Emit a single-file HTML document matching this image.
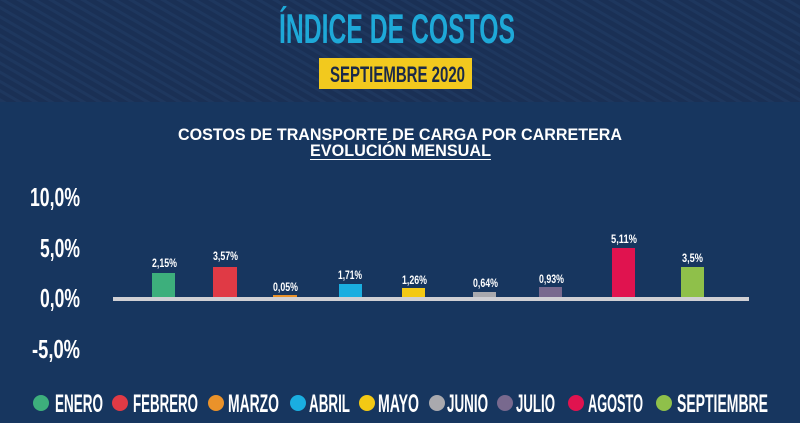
<!DOCTYPE html>
<html><head><meta charset="utf-8"><style>
html,body{margin:0;padding:0;width:800px;height:423px;overflow:hidden;background:#17355e}
svg{display:block}
.n{font-family:"Liberation Sans Narrow","Liberation Sans",sans-serif;font-weight:bold}
.s{font-family:"Liberation Sans",sans-serif;font-weight:bold}
</style></head><body>
<svg width="800" height="423" viewBox="0 0 800 423" xmlns="http://www.w3.org/2000/svg">
<defs>
<pattern id="st" width="8" height="8" patternUnits="userSpaceOnUse" patternTransform="rotate(-60)">
<rect width="8" height="8" fill="#1a3055"/><rect width="3" height="8" fill="#1e375e"/>
</pattern>
</defs>
<rect width="800" height="423" fill="#17365f"/>
<rect width="800" height="102" fill="url(#st)"/>
<text class="n" x="279" y="43" font-size="42" fill="#1ea9d8" textLength="236" lengthAdjust="spacingAndGlyphs">ÍNDICE DE COSTOS</text>
<rect x="319" y="58" width="153" height="31" fill="#f2c91e"/>
<text class="n" x="330" y="82" font-size="22" fill="#1b2a48" textLength="135" lengthAdjust="spacingAndGlyphs">SEPTIEMBRE 2020</text>
<text class="s" x="178" y="140" font-size="17" fill="#ffffff" textLength="444" lengthAdjust="spacingAndGlyphs">COSTOS DE TRANSPORTE DE CARGA POR CARRETERA</text>
<text class="s" x="310" y="156" font-size="17" fill="#ffffff" textLength="181" lengthAdjust="spacingAndGlyphs">EVOLUCIÓN MENSUAL</text>
<rect x="310" y="159" width="181" height="1" fill="#ffffff"/>
<g class="n" fill="#ffffff" font-size="26">
<text x="30" y="206" textLength="50" lengthAdjust="spacingAndGlyphs">10,0%</text>
<text x="40" y="257" textLength="40" lengthAdjust="spacingAndGlyphs">5,0%</text>
<text x="40" y="307" textLength="40" lengthAdjust="spacingAndGlyphs">0,0%</text>
<text x="32" y="358" textLength="48" lengthAdjust="spacingAndGlyphs">-5,0%</text>
</g>
<g>
<rect x="152" y="273" width="23" height="28" fill="#3daf7c"/>
<rect x="213" y="267" width="24" height="34" fill="#e03a45"/>
<rect x="273" y="295" width="24" height="6" fill="#ea922a"/>
<rect x="339" y="284" width="23" height="17" fill="#1aaee0"/>
<rect x="402" y="288" width="23" height="13" fill="#f3c914"/>
<rect x="473" y="292" width="23" height="9" fill="#a9a9ae"/>
<rect x="539" y="287" width="23" height="14" fill="#78698e"/>
<rect x="612" y="248" width="23" height="53" fill="#e0134f"/>
<rect x="681" y="267" width="23" height="34" fill="#8fc04a"/>
</g>
<rect x="113" y="297" width="636" height="4" fill="#d0d0d4"/>
<g class="n" fill="#ffffff" font-size="12">
<text x="152" y="267" textLength="25" lengthAdjust="spacingAndGlyphs">2,15%</text>
<text x="213" y="260" textLength="25" lengthAdjust="spacingAndGlyphs">3,57%</text>
<text x="273" y="291" textLength="25" lengthAdjust="spacingAndGlyphs">0,05%</text>
<text x="338" y="279" textLength="24" lengthAdjust="spacingAndGlyphs">1,71%</text>
<text x="402" y="284" textLength="25" lengthAdjust="spacingAndGlyphs">1,26%</text>
<text x="473" y="287" textLength="25" lengthAdjust="spacingAndGlyphs">0,64%</text>
<text x="539" y="283" textLength="25" lengthAdjust="spacingAndGlyphs">0,93%</text>
<text x="611" y="243" textLength="26" lengthAdjust="spacingAndGlyphs">5,11%</text>
<text x="682" y="262" textLength="21" lengthAdjust="spacingAndGlyphs">3,5%</text>
</g>
<g>
<circle cx="41" cy="403" r="8" fill="#3daf7c"/>
<circle cx="120" cy="403" r="8" fill="#e03a45"/>
<circle cx="216" cy="403" r="8" fill="#ea922a"/>
<circle cx="298" cy="403" r="8" fill="#1aaee0"/>
<circle cx="367" cy="403" r="8" fill="#f3c914"/>
<circle cx="437" cy="403" r="8" fill="#a9a9ae"/>
<circle cx="505" cy="403" r="8" fill="#78698e"/>
<circle cx="576" cy="403" r="8" fill="#e0134f"/>
<circle cx="664" cy="403" r="8" fill="#8fc04a"/>
</g>
<g class="n" fill="#ffffff" font-size="25">
<text x="55" y="412" textLength="48" lengthAdjust="spacingAndGlyphs">ENERO</text>
<text x="133" y="412" textLength="65" lengthAdjust="spacingAndGlyphs">FEBRERO</text>
<text x="228" y="412" textLength="51" lengthAdjust="spacingAndGlyphs">MARZO</text>
<text x="309" y="412" textLength="41" lengthAdjust="spacingAndGlyphs">ABRIL</text>
<text x="378" y="412" textLength="41" lengthAdjust="spacingAndGlyphs">MAYO</text>
<text x="447" y="412" textLength="41" lengthAdjust="spacingAndGlyphs">JUNIO</text>
<text x="516" y="412" textLength="39" lengthAdjust="spacingAndGlyphs">JULIO</text>
<text x="588" y="412" textLength="55" lengthAdjust="spacingAndGlyphs">AGOSTO</text>
<text x="677" y="412" textLength="91" lengthAdjust="spacingAndGlyphs">SEPTIEMBRE</text>
</g>
</svg>
</body></html>
